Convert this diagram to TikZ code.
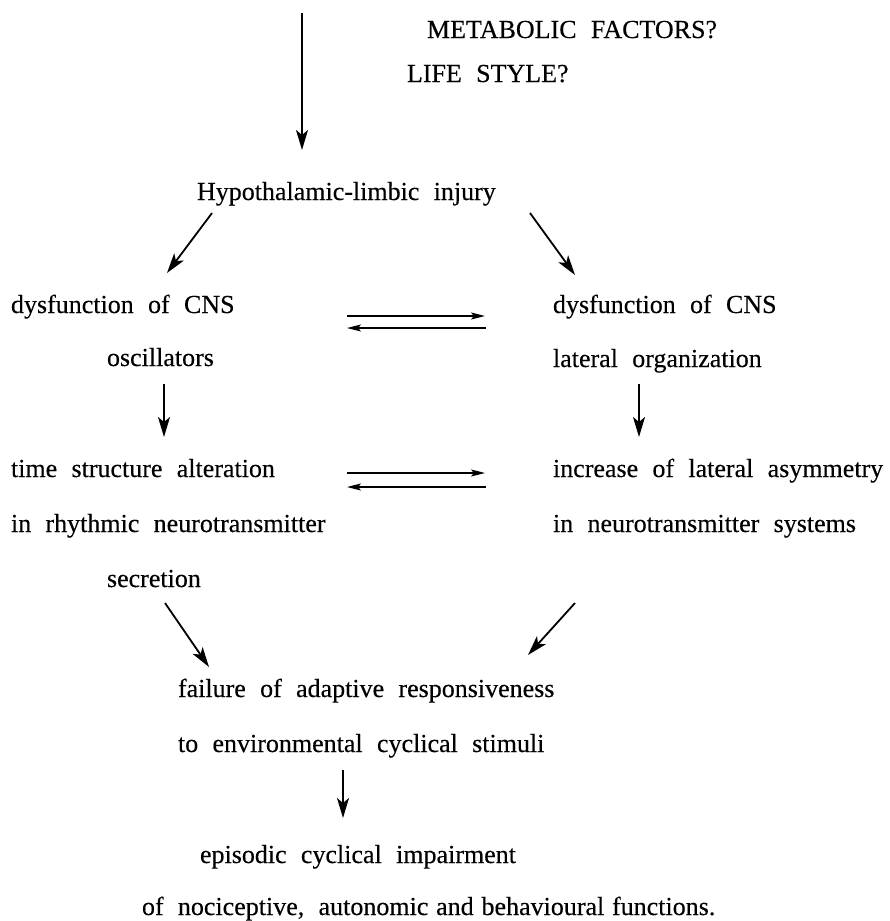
\documentclass[tikz,border=0pt]{standalone}
\usepackage{fontspec}
\setmainfont{Liberation Serif}[WordSpace=2.2, FakeBold=0.3]
\usetikzlibrary{arrows.meta}

\tikzset{
  txt/.style={anchor=base west, inner sep=0pt, outer sep=0pt,
              font=\fontsize{26}{31}\selectfont},
  flow/.style={line width=1.8pt, -{Stealth[length=20pt,width=12pt,inset=5pt]}},
  swap/.style={line width=1.4pt, -{Stealth[length=14pt,width=7pt,inset=3pt]}},
}
\newcommand{\thinsp}{\hspace{0.3em}}

\begin{document}
\begin{tikzpicture}[x=1pt,y=-1pt]
\useasboundingbox (0,0) rectangle (889,921);

% text lines (left edge, baseline)
\node[txt] (meta)  at (427,38)  {METABOLIC FACTORS?};
\node[txt] (life)  at (407,82)  {LIFE STYLE?};
\node[txt] (hypo)  at (197,200) {Hypothalamic-limbic injury};
\node[txt] (dysL)  at (11,313)  {dysfunction of CNS};
\node[txt] (osc)   at (107,366) {oscillators};
\node[txt] (dysR)  at (553,313) {dysfunction of CNS};
\node[txt] (lat)   at (553,367) {lateral organization};
\node[txt] (timeA) at (11,477)  {time structure alteration};
\node[txt] (timeB) at (11,532)  {in rhythmic neurotransmitter};
\node[txt] (timeC) at (107,587) {secretion};
\node[txt] (incA)  at (553,477) {increase of lateral asymmetry};
\node[txt] (incB)  at (553,532) {in neurotransmitter systems};
\node[txt] (failA) at (178,697) {failure of adaptive responsiveness};
\node[txt] (failB) at (178,752) {to environmental cyclical stimuli};
\node[txt] (epiA)  at (200,863) {episodic cyclical impairment};
\node[txt] (epiB)  at (142,915) {of nociceptive, autonomic\thinsp and\thinsp behavioural\thinsp functions.};

% connector end points
\coordinate (topS) at (302,13);
\coordinate (topE) at (302,150);
\coordinate (hL1) at (212,213);  \coordinate (hL2) at (167,273);
\coordinate (hR1) at (530,213);  \coordinate (hR2) at (575,275);
\coordinate (oD1) at (164,384);  \coordinate (oD2) at (164,437);
\coordinate (lD1) at (639,384);  \coordinate (lD2) at (639,437);
\coordinate (sA1) at (347,316);  \coordinate (sA2) at (485,316);
\coordinate (sB1) at (486,328);  \coordinate (sB2) at (347,328);
\coordinate (sC1) at (347,473);  \coordinate (sC2) at (485,473);
\coordinate (sD1) at (486,487);  \coordinate (sD2) at (347,487);
\coordinate (fL1) at (165,603);  \coordinate (fL2) at (209,667);
\coordinate (fR1) at (575,603);  \coordinate (fR2) at (528,655);
\coordinate (eD1) at (343,770);  \coordinate (eD2) at (343,818);

\draw[flow] (topS) -- (topE);
\draw[flow] (hL1) -- (hL2);
\draw[flow] (hR1) -- (hR2);
\draw[flow] (oD1) -- (oD2);
\draw[flow] (lD1) -- (lD2);
\draw[swap] (sA1) -- (sA2);
\draw[swap] (sB1) -- (sB2);
\draw[swap] (sC1) -- (sC2);
\draw[swap] (sD1) -- (sD2);
\draw[flow] (fL1) -- (fL2);
\draw[flow] (fR1) -- (fR2);
\draw[flow] (eD1) -- (eD2);
\end{tikzpicture}
\end{document}
